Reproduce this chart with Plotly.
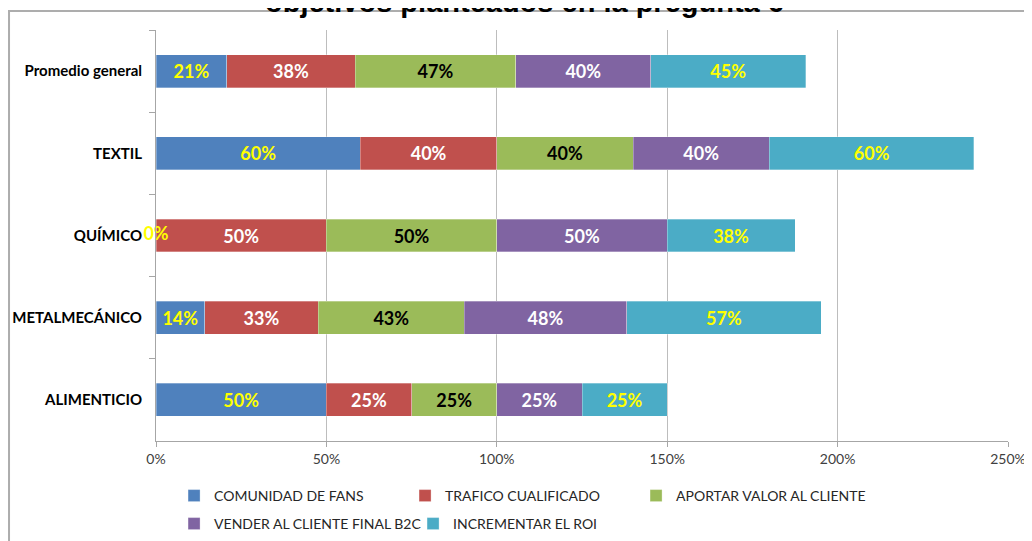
import plotly.graph_objects as go

categories = ["Promedio general", "TEXTIL", "QUÍMICO", "METALMECÁNICO", "ALIMENTICIO"]
series_names = ["COMUNIDAD DE FANS", "TRAFICO CUALIFICADO", "APORTAR VALOR AL CLIENTE",
                "VENDER AL CLIENTE FINAL B2C", "INCREMENTAR EL ROI"]
comunidad = [0.208, 0.60, 0.0, 0.143, 0.50]
trafico = [0.376, 0.40, 0.50, 0.333, 0.25]
aportar = [0.472, 0.40, 0.50, 0.429, 0.25]
vender = [0.396, 0.40, 0.50, 0.476, 0.25]
roi = [0.454, 0.60, 0.375, 0.571, 0.25]
x_ticks = [0, 0.5, 1.0, 1.5, 2.0, 2.5]

series_values = [comunidad, trafico, aportar, vender, roi]
colors = ["#4F81BD", "#C0504D", "#9BBB59", "#8064A2", "#4BACC6"]
label_colors = ["#FFFF00", "#FFFFFF", "#000000", "#FFFFFF", "#FFFF00"]
legend_rows = ["legend", "legend", "legend", "legend2", "legend2"]

FONT = "Lato"

fig = go.Figure()
for name, vals, col, lc, lg in zip(series_names, series_values, colors, label_colors, legend_rows):
    fig.add_trace(go.Bar(
        y=categories, x=vals, name=name, orientation="h", legend=lg,
        marker=dict(color=col, line=dict(color="rgba(255,255,255,0.6)", width=0.5)),
        text=[f"{v:.0%}" if v > 0 else "" for v in vals],
        textposition="inside", insidetextanchor="middle", textangle=0,
        insidetextfont=dict(family=FONT, size=18, color=lc, weight="bold"),
    ))

# zero-valued labels (drawn at their own value)
zero_idx = [i for i, v in enumerate(comunidad) if v == 0]
fig.add_trace(go.Scatter(
    x=[comunidad[i] for i in zero_idx], y=[categories[i] for i in zero_idx],
    mode="text", text=[f"{comunidad[i]:.0%}" for i in zero_idx],
    textposition="middle center", cliponaxis=False, showlegend=False,
    textfont=dict(family=FONT, size=18, color="#FFFF00", weight="bold"),
    hoverinfo="skip",
))

legend_common = dict(orientation="h", xanchor="left", yanchor="middle",
                     entrywidthmode="pixels", itemwidth=30,
                     font=dict(family=FONT, size=14, color="#262626"),
                     traceorder="normal", bgcolor="rgba(0,0,0,0)")

fig.update_layout(
    width=1024, height=533,
    barmode="stack", bargap=0.6,
    plot_bgcolor="white", paper_bgcolor="white",
    margin=dict(l=148, r=24, t=22, b=100, autoexpand=False),
    xaxis=dict(range=[0, 2.5], tickvals=x_ticks, tickformat=".0%",
               showgrid=True, gridcolor="#BDBDBD", gridwidth=1,
               showline=True, linecolor="#A6A6A6", linewidth=1,
               ticks="outside", ticklen=5, tickcolor="#A6A6A6",
               tickfont=dict(family=FONT, size=14, color="#404040"),
               zeroline=False, fixedrange=True),
    yaxis=dict(autorange="reversed", type="category",
               showline=True, linecolor="#A6A6A6", linewidth=1,
               ticks="outside", tickson="boundaries", ticklen=6, tickcolor="#A6A6A6",
               tickfont=dict(family=FONT, size=15, color="#000000", weight="bold"),
               showgrid=False, ticklabelstandoff=10),
    legend=dict(x=0.0212, y=-0.1338, entrywidth=186, **legend_common),
    legend2=dict(x=0.0212, y=-0.2019, entrywidth=194, **legend_common),
    showlegend=True,
    shapes=[dict(type="rect", xref="paper", yref="paper",
                 x0=-0.1725, x1=1.2, y0=-0.5, y1=1.0462,
                 line=dict(color="#ADADAD", width=2), fillcolor="rgba(0,0,0,0)")],
    annotations=[dict(text="objetivos planteados en la pregunta 6", xref="paper", yref="paper",
                      x=0.433, xanchor="center", y=1.0243, yanchor="bottom", showarrow=False,
                      font=dict(family="Liberation Sans", size=29, color="#000000", weight="bold"))],
)

fig.write_html("out.html")
